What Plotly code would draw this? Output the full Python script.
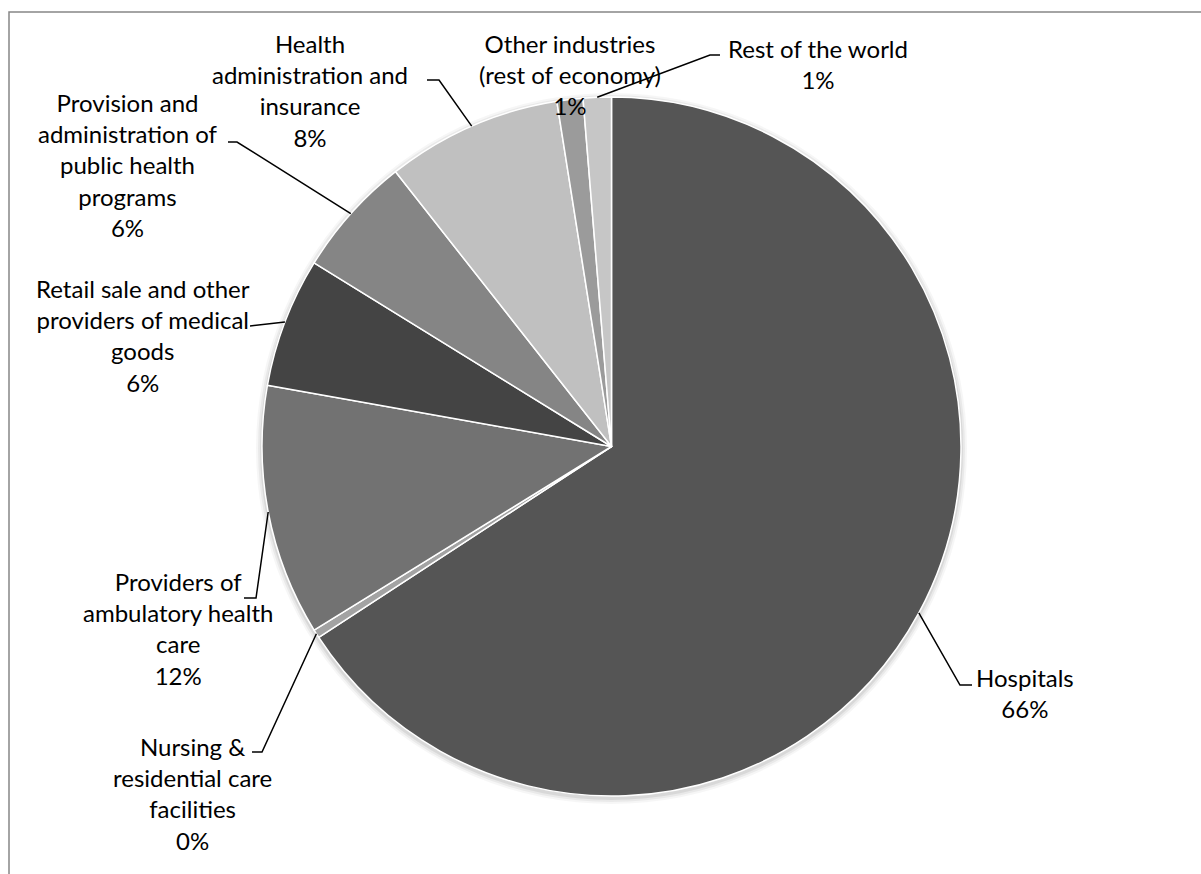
import math
import plotly.graph_objects as go

# Health spending by provider industry (share of total)
categories = [
    "Hospitals",
    "Nursing & residential care facilities",
    "Providers of ambulatory health care",
    "Retail sale and other providers of medical goods",
    "Provision and administration of public health programs",
    "Health administration and insurance",
    "Other industries (rest of economy)",
    "Rest of the world",
]
shares = [65.8, 0.4, 11.6, 6.0, 5.6, 8.1, 1.2, 1.3]

# Wrapped label text, one entry per category
label_lines = [
    ["Hospitals"],
    ["Nursing &", "residential care", "facilities"],
    ["Providers of", "ambulatory health", "care"],
    ["Retail sale and other", "providers of medical", "goods"],
    ["Provision and", "administration of", "public health", "programs"],
    ["Health", "administration and", "insurance"],
    ["Other industries", "(rest of economy)"],
    ["Rest of the world"],
]

colors = ["#555555", "#a3a3a3", "#727272", "#444444",
          "#858585", "#c0c0c0", "#9b9b9b", "#c6c6c6"]

W, H = 1201, 874
CX, CY, R = 611.5, 446.5, 349.5
FONT = "Lato"
FS = 24
LINE_H = 32.5

# label placement in pixels: text centre x, first line centre y, leader path (elbow, end)
label_layout = [
    dict(x=1025, y=677, leader=[(960, 685), (972, 685)]),
    dict(x=192, y=745, leader=[(262, 752), (252, 752)]),
    dict(x=178, y=580, leader=[(256, 598), (244, 598)]),
    dict(x=143, y=287, leader=[(250, 326)]),
    dict(x=128, y=100, leader=[(237, 142), (228, 142)]),
    dict(x=310, y=42, leader=[(439, 80), (427, 80)]),
    dict(x=570, y=42, leader=None),
    dict(x=818, y=48, leader=[(710, 55), (720, 55)]),
]


def px(x):
    return x / W


def py(y):
    return 1 - y / H


fig = go.Figure()

# soft drop shadow under the pie
for grow, alpha in [(6, 0.035), (4, 0.05), (2, 0.07)]:
    r = R + grow
    fig.add_trace(go.Pie(
        values=[1], marker=dict(colors=[f"rgba(0,0,0,{alpha})"], line=dict(width=0)),
        domain=dict(x=[px(CX - r), px(CX + r)], y=[py(CY + 2 + r), py(CY + 2 - r)]),
        textinfo="none", hoverinfo="skip", showlegend=False, sort=False,
    ))

fig.add_trace(go.Pie(
    labels=categories,
    values=shares,
    sort=False,
    direction="clockwise",
    rotation=0,
    marker=dict(colors=colors, line=dict(color="white", width=1.5)),
    textinfo="none",
    hovertemplate="%{label}: %{percent}<extra></extra>",
    domain=dict(x=[px(CX - R), px(CX + R)], y=[py(CY + R), py(CY - R)]),
    showlegend=False,
))

total = sum(shares)
annotations = []
shapes = []
cum = 0.0
for name_lines, v, pos in zip(label_lines, shares, label_layout):
    mid = (cum + v / 2) / total
    cum += v
    pct = round(100 * v / total)
    lines = name_lines + [f"{pct}%"]
    n = len(lines)
    yc = pos["y"] + (n - 1) * LINE_H / 2
    annotations.append(dict(
        x=px(pos["x"]), y=py(yc), xref="paper", yref="paper",
        xanchor="center", yanchor="middle", showarrow=False,
        text="<br>".join(lines), align="center",
        font=dict(family=FONT, size=FS, color="#000000"),
    ))
    if pos["leader"]:
        theta = 2 * math.pi * mid
        ex = CX + R * math.sin(theta)
        ey = CY - R * math.cos(theta)
        pts = [(ex, ey)] + pos["leader"]
        path = "M " + " L ".join(f"{px(a):.5f},{py(b):.5f}" for a, b in pts)
        shapes.append(dict(type="path", path=path, xref="paper", yref="paper",
                           line=dict(color="#000000", width=1.5)))

# chart-area frame
shapes.append(dict(type="rect", xref="paper", yref="paper",
                   x0=px(9), x1=1.02, y0=-0.02, y1=py(12),
                   line=dict(color="#868686", width=1.5), fillcolor="rgba(0,0,0,0)"))

fig.update_layout(
    width=W, height=H,
    margin=dict(l=0, r=0, t=0, b=0),
    paper_bgcolor="white",
    plot_bgcolor="white",
    annotations=annotations,
    shapes=shapes,
    font=dict(family=FONT, size=FS),
)

fig.write_html("out.html")
